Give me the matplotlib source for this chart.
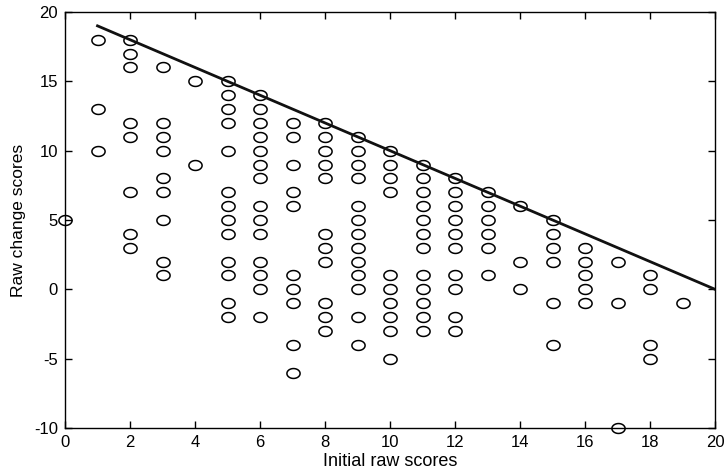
import numpy as np
import matplotlib as mpl
import matplotlib.pyplot as plt
from matplotlib.path import Path

mpl.rc('font', family='Liberation Sans', size=12)
mpl.rc('axes', unicode_minus=False)

# initial raw score -> list of raw change scores seen at that score
initial = list(range(0, 20))
changes = [
    [5],
    [18, 13, 10],
    [18, 17, 16, 12, 11, 7, 4, 3],
    [16, 12, 11, 10, 8, 7, 5, 2, 1],
    [15, 9],
    [15, 14, 13, 12, 10, 7, 6, 5, 4, 2, 1, -1, -2],
    [14, 13, 12, 11, 10, 9, 8, 6, 5, 4, 2, 1, 0, -2],
    [12, 11, 9, 7, 6, 1, 0, -1, -4, -6],
    [12, 11, 10, 9, 8, 4, 3, 2, -1, -2, -3],
    [11, 10, 9, 8, 6, 5, 4, 3, 2, 1, 0, -2, -4],
    [10, 9, 8, 7, 1, 0, -1, -2, -3, -5],
    [9, 8, 7, 6, 5, 4, 3, 1, 0, -1, -2, -3],
    [8, 7, 6, 5, 4, 3, 1, 0, -2, -3],
    [7, 6, 5, 4, 3, 1],
    [6, 2, 0],
    [5, 4, 3, 2, -1, -4],
    [3, 2, 1, 0, -1],
    [2, -1, -10],
    [1, 0, -4, -5],
    [-1],
]

# ceiling line
line_x = [1, 20]
line_y = [19, 0]

xs = []
ys = []
for x, col in zip(initial, changes):
    for v in col:
        xs.append(x)
        ys.append(v)

# slightly flattened circle, like the original marker
t = np.linspace(0, 2 * np.pi, 41)
ellipse = Path(np.column_stack([np.cos(t), 0.75 * np.sin(t)]), closed=True)

fig = plt.figure(figsize=(7.28, 4.76), dpi=100)
ax = fig.add_axes([0.0893, 0.1008, 0.893, 0.874])

ax.plot(xs, ys, linestyle='none', marker=ellipse, markersize=9.5,
        markerfacecolor='none', markeredgecolor='black',
        markeredgewidth=1.1, clip_on=False)
ax.plot(line_x, line_y, color='#111111', linewidth=2)

ax.set_xlim(0, 20)
ax.set_ylim(-10, 20)
ax.set_xticks(range(0, 21, 2))
ax.set_yticks(range(-10, 21, 5))
ax.tick_params(direction='in', top=True, right=True, length=5, width=1, pad=5)
for s in ax.spines.values():
    s.set_linewidth(1)
ax.set_xlabel('Initial raw scores', fontsize=13, labelpad=2)
ax.set_ylabel('Raw change scores', fontsize=12.5, labelpad=6)

fig.savefig('out.png', dpi=100)
